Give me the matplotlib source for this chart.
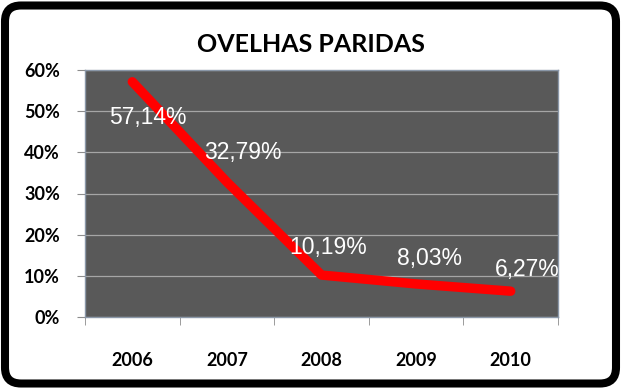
import matplotlib
matplotlib.use("Agg")
import matplotlib.pyplot as plt
from matplotlib.patches import FancyBboxPatch
from matplotlib.ticker import FuncFormatter, FixedLocator

years = ["2006", "2007", "2008", "2009", "2010"]
values = [0.5714, 0.3279, 0.1019, 0.0803, 0.0627]
labels = ["57,14%", "32,79%", "10,19%", "8,03%", "6,27%"]
label_offsets = [(16, -36), (16, 30), (7, 28), (13, 25), (17, 22)]  # pixels

W, H = 623, 389
fig = plt.figure(figsize=(W / 100, H / 100), dpi=100)
fig.patch.set_facecolor("white")

# outer rounded frame (pixel -> inch coords)
frame = FancyBboxPatch((5 / 100, (H - 383.5) / 100), 611 / 100, 378 / 100,
                       boxstyle="round,pad=0,rounding_size=0.16",
                       transform=fig.dpi_scale_trans, facecolor="none",
                       edgecolor="black", linewidth=5.8, zorder=0)
fig.patches.append(frame)

ax = fig.add_axes([85 / W, 1 - 317 / H, (558 - 85) / W, (317 - 70) / H])
ax.set_zorder(2)
ax.set_facecolor("#595959")
x = list(range(len(years)))
ax.plot(x, values, color="#ff0000", linewidth=6.8, solid_capstyle="round",
        solid_joinstyle="round", zorder=3)
for xi, v, lab, (dx, dy) in zip(x, values, labels, label_offsets):
    ax.annotate(lab, (xi, v), xytext=(dx, dy), textcoords="offset pixels",
                ha="center", va="center", color="white", fontsize=16.5,
                family="Liberation Sans", zorder=4)

ax.set_xlim(-0.5, len(years) - 0.5)
ax.set_ylim(0, 0.6)
ax.set_yticks([0, 0.1, 0.2, 0.3, 0.4, 0.5, 0.6])
ax.yaxis.set_major_formatter(FuncFormatter(lambda v, p: f"{v*100:.0f}%"))
ax.grid(axis="y", color="#a6a6a6", linewidth=0.9, zorder=1)
ax.set_axisbelow(True)

ax.set_xticks(x)
ax.set_xticklabels(years)
ax.xaxis.set_minor_locator(FixedLocator([i - 0.5 for i in range(len(years) + 1)]))
ax.tick_params(axis="x", which="major", length=0, pad=25)
ax.tick_params(axis="x", which="minor", length=6, color="#8c8c8c", direction="out")
ax.tick_params(axis="y", length=6, color="#8c8c8c", direction="out", pad=12)
for lab in ax.get_xticklabels() + ax.get_yticklabels():
    lab.set_family("Lato")
    lab.set_fontweight("bold")
    lab.set_fontsize(13)
    lab.set_color("black")

for s in ax.spines.values():
    s.set_color("#8a97a8")
    s.set_linewidth(1.0)

fig.text(311 / W, 1 - 44 / H, "OVELHAS PARIDAS", ha="center", va="center",
         fontsize=18, fontweight="bold", family="Lato", color="black")

fig.savefig("out.png", dpi=100, facecolor="white")
